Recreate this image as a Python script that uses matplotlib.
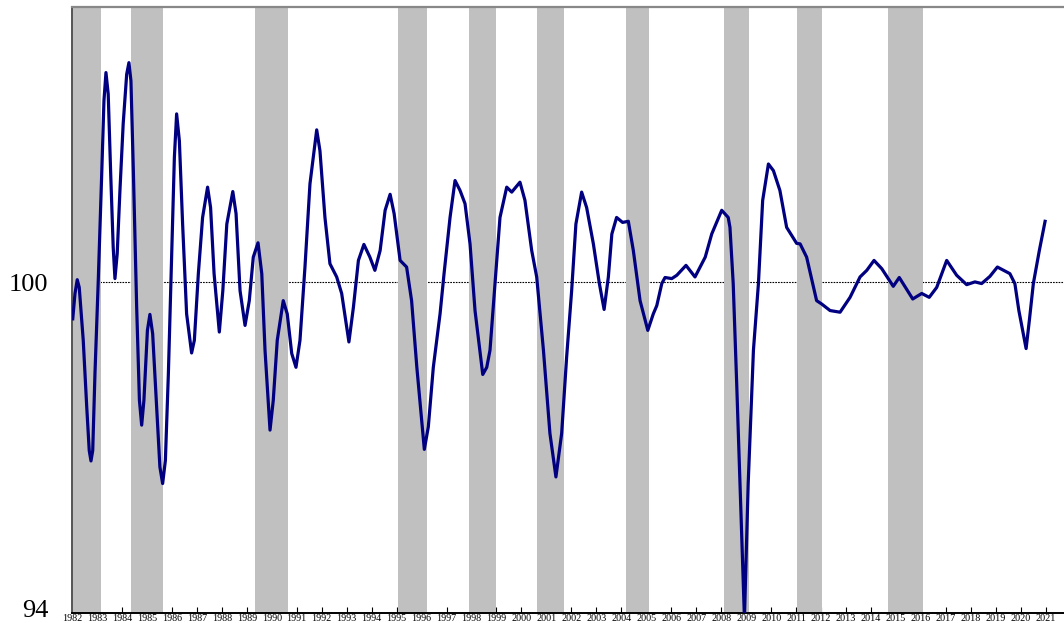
import matplotlib
matplotlib.use("Agg")
import matplotlib.pyplot as plt
from matplotlib.transforms import ScaledTranslation

# index readings (year, value)
years = [1982.03, 1982.12, 1982.21, 1982.29, 1982.45, 1982.59, 1982.69, 1982.76, 1982.83, 1982.92,
         1983.05, 1983.19, 1983.28, 1983.36, 1983.45, 1983.55, 1983.65, 1983.72, 1983.81, 1983.92,
         1984.05, 1984.19, 1984.28, 1984.36, 1984.46, 1984.59, 1984.70, 1984.79, 1984.88, 1985.02,
         1985.12, 1985.23, 1985.39, 1985.52, 1985.63, 1985.74, 1985.86, 1985.99, 1986.10, 1986.19,
         1986.30, 1986.43, 1986.59, 1986.79, 1986.90, 1987.06, 1987.23, 1987.43, 1987.55, 1987.69,
         1987.90, 1988.04, 1988.20, 1988.44, 1988.57, 1988.73, 1988.93, 1989.10, 1989.26, 1989.45,
         1989.60, 1989.73, 1989.93, 1990.06, 1990.22, 1990.46, 1990.62, 1990.80, 1990.97, 1991.13,
         1991.33, 1991.53, 1991.80, 1991.93, 1992.13, 1992.33, 1992.60, 1992.80, 1993.09, 1993.27,
         1993.47, 1993.69, 1993.93, 1994.13, 1994.34, 1994.54, 1994.74, 1994.90, 1995.14, 1995.40,
         1995.60, 1995.81, 1996.11, 1996.27, 1996.47, 1996.74, 1996.90, 1997.14, 1997.34, 1997.54,
         1997.74, 1997.94, 1998.14, 1998.45, 1998.61, 1998.74, 1998.94, 1999.14, 1999.41, 1999.61,
         1999.94, 2000.14, 2000.41, 2000.61, 2000.88, 2001.14, 2001.38, 2001.61, 2001.81, 2002.01,
         2002.18, 2002.41, 2002.61, 2002.88, 2003.12, 2003.31, 2003.48, 2003.62, 2003.81, 2004.05,
         2004.28, 2004.48, 2004.75, 2005.06, 2005.28, 2005.42, 2005.62, 2005.75, 2006.02, 2006.22,
         2006.59, 2006.95, 2007.36, 2007.62, 2008.02, 2008.28, 2008.35, 2008.48, 2008.62, 2008.75,
         2008.93, 2009.08, 2009.29, 2009.49, 2009.66, 2009.89, 2010.09, 2010.35, 2010.62, 2011.02,
         2011.16, 2011.42, 2011.82, 2012.02, 2012.36, 2012.76, 2013.16, 2013.56, 2013.83, 2014.12,
         2014.43, 2014.89, 2015.13, 2015.67, 2016.03, 2016.33, 2016.63, 2017.03, 2017.43, 2017.83,
         2018.16, 2018.43, 2018.76, 2019.06, 2019.56, 2019.76, 2019.92, 2020.21, 2020.34, 2020.50,
         2020.74, 2020.97]
values = [99.34, 99.80, 100.05, 99.91, 98.95, 97.74, 96.95, 96.76, 96.95, 98.35,
          100.01, 101.97, 103.30, 103.81, 103.42, 101.97, 100.64, 100.07, 100.52, 101.67,
          102.88, 103.78, 103.99, 103.66, 101.97, 99.55, 97.86, 97.41, 97.86, 99.13,
          99.42, 99.07, 97.74, 96.65, 96.35, 96.77, 98.35, 100.46, 102.27, 103.06,
          102.57, 101.06, 99.43, 98.72, 98.95, 100.16, 101.18, 101.73, 101.36, 100.16,
          99.10, 99.85, 101.06, 101.65, 101.25, 99.85, 99.22, 99.67, 100.46, 100.72,
          100.16, 98.77, 97.32, 97.86, 98.95, 99.67, 99.43, 98.71, 98.46, 98.95,
          100.28, 101.79, 102.77, 102.39, 101.18, 100.34, 100.10, 99.80, 98.92, 99.55,
          100.40, 100.69, 100.46, 100.22, 100.58, 101.31, 101.60, 101.25, 100.40, 100.28,
          99.67, 98.46, 96.97, 97.38, 98.46, 99.43, 100.16, 101.18, 101.85, 101.67,
          101.43, 100.70, 99.49, 98.33, 98.46, 98.77, 99.98, 101.18, 101.73, 101.64,
          101.82, 101.49, 100.58, 100.10, 98.77, 97.26, 96.47, 97.26, 98.65, 99.85,
          101.06, 101.64, 101.36, 100.70, 99.98, 99.51, 100.10, 100.88, 101.18, 101.09,
          101.11, 100.58, 99.67, 99.13, 99.43, 99.58, 99.98, 100.09, 100.07, 100.13,
          100.31, 100.10, 100.46, 100.88, 101.31, 101.18, 101.00, 99.98, 98.16, 96.35,
          93.9, 96.35, 98.77, 99.98, 101.49, 102.15, 102.03, 101.67, 101.00, 100.71,
          100.70, 100.46, 99.67, 99.61, 99.49, 99.46, 99.73, 100.10, 100.22, 100.40,
          100.25, 99.93, 100.09, 99.70, 99.80, 99.73, 99.91, 100.40, 100.13, 99.96,
          100.01, 99.98, 100.11, 100.28, 100.16, 99.98, 99.49, 98.80, 99.31, 99.98,
          100.58, 101.11]

# shaded periods
rec_start = [1982.0, 1984.35, 1989.33, 1995.07, 1997.90, 2000.63, 2004.17, 2008.12, 2011.03, 2014.69]
rec_end = [1983.16, 1985.66, 1990.66, 1996.21, 1998.97, 2001.70, 2005.12, 2009.11, 2012.02, 2016.09]

tick_years = list(range(1982, 2022))

plt.rcParams['font.family'] = ['Liberation Serif', 'DejaVu Serif']

fig = plt.figure(figsize=(10.64, 6.23), dpi=100)
ax = fig.add_axes([72 / 1064, 10 / 623, 1 - 72 / 1064, 606 / 623])

ax.axhline(100, color='black', lw=0.8, ls=(0, (1.5, 1)), zorder=1)
for s, e in zip(rec_start, rec_end):
    ax.axvspan(s, e, color='#c0c0c0', lw=0, zorder=2)
ax.plot(years, values, color='#000080', lw=2.3, zorder=3, solid_joinstyle='round')

ax.set_xlim(1982, 1982 + 992 / 24.97)
ax.set_ylim(94, 105)

ax.set_xticks(tick_years)
ax.set_xticklabels([str(y) for y in tick_years], fontsize=7.3)
ax.tick_params(axis='x', direction='in', length=4, pad=1, width=0.8)
ax.set_yticks([94, 100])
ax.set_yticklabels(['94', '100'], fontsize=19)
ax.tick_params(axis='y', length=0, pad=17)
# nudge the bottom label up so it stays inside the figure
lab94 = ax.get_yticklabels()[0]
lab94.set_transform(lab94.get_transform() + ScaledTranslation(0, 3 / 72, fig.dpi_scale_trans))

ax.spines['right'].set_visible(False)
ax.spines['top'].set_color('#888888')
ax.spines['top'].set_linewidth(1.6)
ax.spines['left'].set_color('#555555')
ax.spines['left'].set_linewidth(1.4)
ax.spines['bottom'].set_color('black')
ax.spines['bottom'].set_linewidth(1.4)

fig.savefig('out.png', dpi=100)
